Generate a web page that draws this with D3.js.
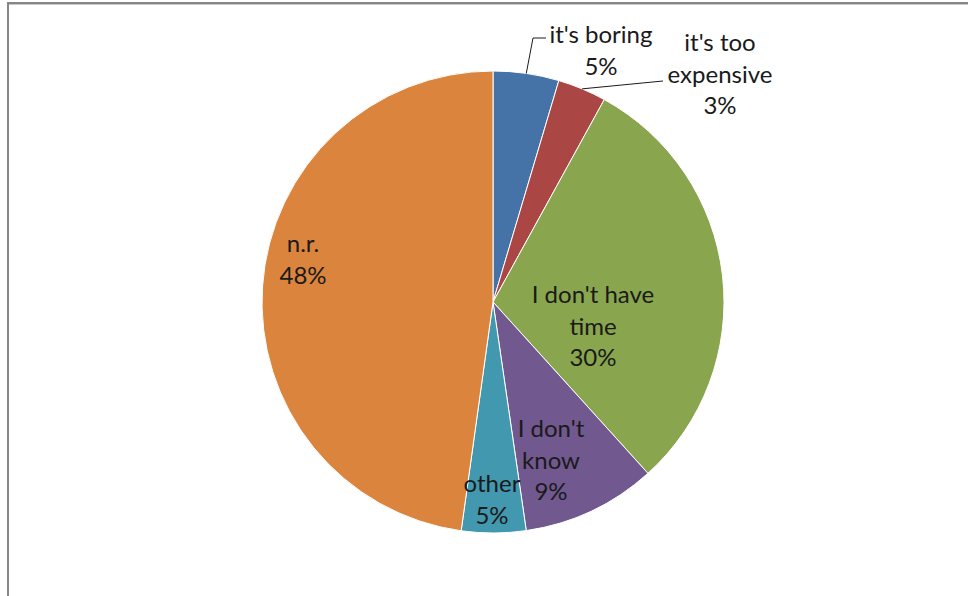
<!DOCTYPE html>
<html>
<head>
<meta charset="utf-8">
<script src="https://cdn.jsdelivr.net/npm/d3@7/dist/d3.min.js"></script>
<style>
  html, body { margin: 0; padding: 0; background: #fff; }
  svg { display: block; }
  text { font-family: Lato, "Open Sans", sans-serif; fill: #1a1a1a; }
</style>
</head>
<body>
<svg id="chart" width="968" height="596"></svg>
<script>
// Data
const categories = ["it's boring", "it's too expensive", "I don't have time", "I don't know", "other", "n.r."];
const values = [4.6, 3.4, 30.3, 9.4, 4.5, 47.8];
const percentLabels = ["5%", "3%", "30%", "9%", "5%", "48%"];
const labelLines = [["it's boring"], ["it's too", "expensive"], ["I don't have", "time"], ["I don't", "know"], ["other"], ["n.r."]];
const colors = ["#4572A7", "#AA4643", "#89A54E", "#71588F", "#4198AF", "#DB843D"];

const W = 968, H = 596;
const cx = 493, cy = 302, R = 231;
const svg = d3.select("#chart");

// frame
svg.append("rect").attr("x", 8).attr("y", 3).attr("width", 1200).attr("height", 1200)
  .attr("fill", "none").attr("stroke", "#868686").attr("stroke-width", 2);
svg.append("line").attr("x1", 9).attr("x2", W).attr("y1", 4.5).attr("y2", 4.5)
  .attr("stroke", "#c8c8c8").attr("stroke-width", 1);

const data = categories.map((c, i) => ({ cat: c, value: values[i], pct: percentLabels[i], lines: labelLines[i], color: colors[i] }));

const pie = d3.pie().value(d => d.value).sort(null);
const arcs = pie(data);
const arc = d3.arc().innerRadius(0).outerRadius(R);

const g = svg.append("g").attr("transform", `translate(${cx},${cy})`);
g.selectAll("path").data(arcs).enter().append("path")
  .attr("d", arc)
  .attr("fill", d => d.data.color)
  .attr("stroke", "#fff").attr("stroke-width", 1);

// label positions (center x, first baseline) relative to pie centre
const labelPos = [
  [108, -259],
  [227, -251],
  [100, 1],
  [58, 135],
  [-1, 190],
  [-190, -50]
];
const lh = 31.5;
const fs = 24;

arcs.forEach((a, i) => {
  const [lx, ly] = labelPos[i];
  const lines = a.data.lines.concat([a.data.pct]);
  const t = g.append("text").attr("text-anchor", "middle").attr("font-size", fs);
  lines.forEach((ln, k) => {
    t.append("tspan").attr("x", lx).attr("y", ly + k * lh).text(ln);
  });
});

// leader lines for small outside slices
const edge = a => {
  const m = (a.startAngle + a.endAngle) / 2;
  return [R * Math.sin(m), -R * Math.cos(m)];
};
{
  const a = arcs[0];
  const [sx, sy] = edge(a);
  const p = d3.path();
  p.moveTo(sx, sy); p.lineTo(40, -264); p.lineTo(53, -264);
  g.append("path").attr("d", p.toString()).attr("fill", "none").attr("stroke", "#1a1a1a").attr("stroke-width", 1);
}
{
  const a = arcs[1];
  const [sx, sy] = edge(a);
  const p = d3.path();
  p.moveTo(sx, sy); p.lineTo(170, -221);
  g.append("path").attr("d", p.toString()).attr("fill", "none").attr("stroke", "#1a1a1a").attr("stroke-width", 1);
}
</script>
</body>
</html>
